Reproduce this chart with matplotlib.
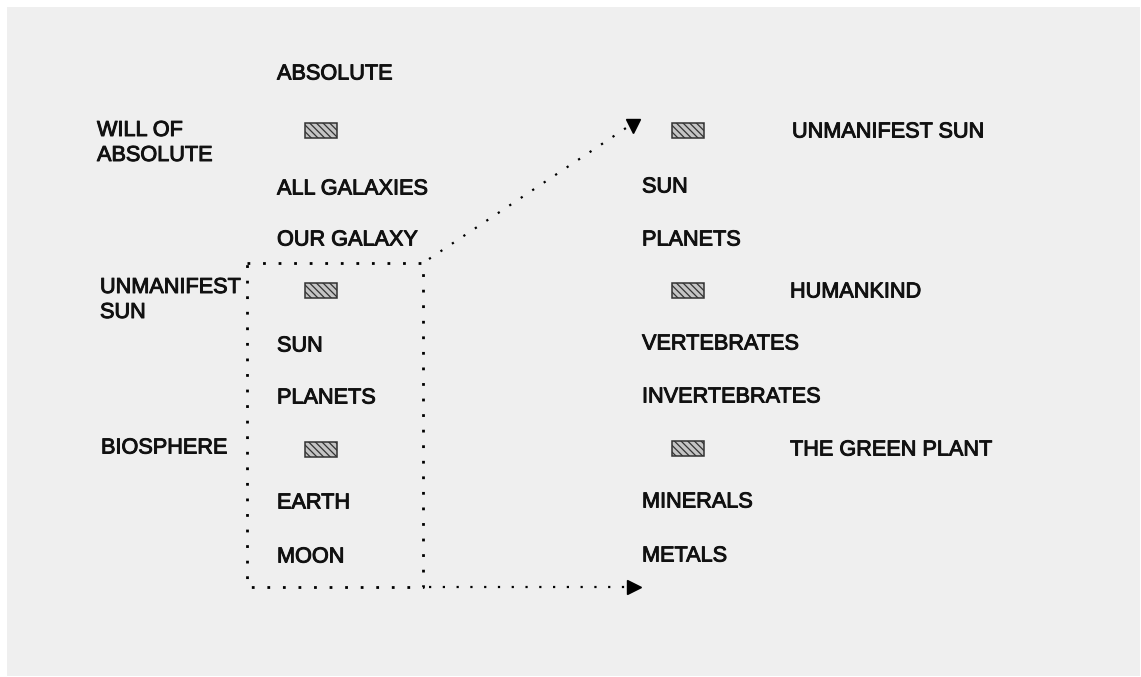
import matplotlib
matplotlib.use("Agg")
import matplotlib.pyplot as plt
from matplotlib.patches import Rectangle
import matplotlib.patheffects as pe

# ---- content ----
left_labels = ["ABSOLUTE", None, "ALL GALAXIES", "OUR GALAXY", None,
               "SUN", "PLANETS", None, "EARTH", "MOON"]
left_rows = [72, 130, 187, 238, 290, 344, 396, 449, 501, 555]

side_labels = ["WILL OF\nABSOLUTE", "UNMANIFEST\nSUN", "BIOSPHERE"]
side_rows = [143, 300, 448]
side_x = [97, 100, 101]

right_labels = [None, "SUN", "PLANETS", None, "VERTEBRATES", "INVERTEBRATES",
                None, "MINERALS", "METALS"]
right_rows = [130, 185, 238, 290, 342, 395, 448, 500, 554]
right_notes = ["UNMANIFEST SUN", "HUMANKIND", "THE GREEN PLANT"]
right_note_x = [792, 790, 790]

W, H = 1141, 677
fig = plt.figure(figsize=(W / 100, H / 100), dpi=100)
fig.patch.set_facecolor("white")
ax = fig.add_axes([0, 0, 1, 1])
ax.set_xlim(0, W)
ax.set_ylim(H, 0)
ax.axis("off")

ax.add_patch(Rectangle((7, 7), W - 8, H - 8, facecolor="#efefef", edgecolor="none", zorder=0))

FS = 15.6
FONT = ["Liberation Sans", "DejaVu Sans"]
CAP = 7.5
TCOL = "#111111"
thick = [pe.withStroke(linewidth=0.7, foreground=TCOL)]


def label(x, y, s):
    ax.text(x, y + CAP, s, fontsize=FS, family=FONT, va="baseline", ha="left",
            color=TCOL, path_effects=thick)


plt.rcParams["hatch.color"] = "#333333"
plt.rcParams["hatch.linewidth"] = 0.9


def hatch_box(xc, yc):
    ax.add_patch(Rectangle((xc - 16, yc - 7.5), 32, 15, facecolor="#c4c4c4",
                           edgecolor="#333333", hatch="\\\\\\\\\\", linewidth=1.1, zorder=3))


for s, y in zip(left_labels, left_rows):
    if s is None:
        hatch_box(321, y)
    else:
        label(277, y, s)

note_i = 0
for s, y in zip(right_labels, right_rows):
    if s is None:
        hatch_box(688, y)
        label(right_note_x[note_i], y, right_notes[note_i])
        note_i += 1
    else:
        label(642, y, s)

for s, y, x in zip(side_labels, side_rows, side_x):
    ax.text(x, y, s, fontsize=FS, family=FONT, va="center", ha="left",
            color=TCOL, linespacing=1.25, path_effects=thick)

# dotted box
dot = dict(color="black", linewidth=2.0, linestyle=(0, (1, 4.6)), dash_capstyle="butt")
bx0, bx1, by0, by1 = 247, 423, 263, 587
ax.plot([bx0, bx1, bx1, bx0, bx0], [by0, by0, by1, by1, by0], **dot)

# arrows
thin = dict(color="black", linewidth=1.6, linestyle=(0, (1, 5.2)), dash_capstyle="butt")
ax.plot([bx1 + 6, 626], [by0 - 4, 128], **thin)
ax.plot([633], [126], marker="v", markersize=10, color="black", linestyle="none")
ax.plot([bx1 + 6, 628], [by1, by1], **thin)
ax.plot([634], [by1], marker=">", markersize=10, color="black", linestyle="none")

fig.savefig("out.png", dpi=100, facecolor="white")
